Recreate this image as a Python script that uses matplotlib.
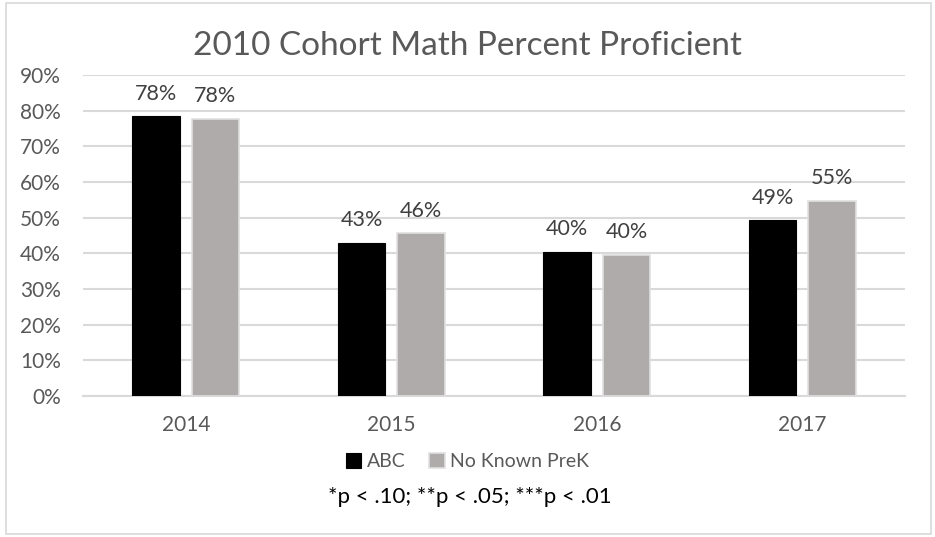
import numpy as np
import matplotlib.pyplot as plt
from matplotlib.patches import Rectangle

years = ["2014", "2015", "2016", "2017"]
abc = [78.4, 42.9, 40.4, 49.3]
no_prek = [77.8, 45.6, 39.6, 54.8]

text_grey = "#595959"
plt.rcParams['font.family'] = ['Lato', 'DejaVu Sans']

fig = plt.figure(figsize=(9.35, 5.37), dpi=100)
ax = fig.add_axes([0.0888, 0.2626, 0.8791, 0.5977])

x = np.arange(len(years))
w = 0.231
off = (w + 0.058) / 2

b1 = ax.bar(x - off, abc, w, color="black", edgecolor="black", linewidth=0.8, zorder=3, label="ABC")
b2 = ax.bar(x + off, no_prek, w, color="#afabab", edgecolor="#e0e0e0", linewidth=1.2, zorder=3, label="No Known PreK")

for bars, vals in [(b1, abc), (b2, no_prek)]:
    for rect, v in zip(bars, vals):
        ax.annotate("%.0f%%" % v, (rect.get_x() + rect.get_width() / 2, v),
                    xytext=(0, 9), textcoords="offset points",
                    ha="center", va="bottom", fontsize=15.5, color="#404040")

ax.set_xlim(-0.5, 3.5)
ax.set_ylim(0, 90)
ax.set_yticks(np.arange(0, 91, 10))
ax.set_yticklabels(["%d%%" % t for t in range(0, 91, 10)])
ax.set_xticks(x)
ax.set_xticklabels(years)
ax.tick_params(length=0, labelsize=15, colors=text_grey)
ax.tick_params(axis="x", pad=14)
ax.tick_params(axis="y", pad=16)
ax.yaxis.grid(True, color="#d9d9d9", linewidth=1.5, zorder=0)
for s in ["top", "right", "left"]:
    ax.spines[s].set_visible(False)
ax.spines["bottom"].set_color("#d9d9d9")
ax.spines["bottom"].set_linewidth(1.5)

fig.text(0.5, 0.915, "2010 Cohort Math Percent Proficient", ha="center", va="center",
         fontsize=24, color=text_grey)

fig.legend(handles=[b1, b2], loc="center", bbox_to_anchor=(0.5, 0.14), ncol=2, frameon=False,
           fontsize=14, labelcolor=text_grey, handlelength=0.8, handleheight=0.8,
           handletextpad=0.3, columnspacing=1.2)

fig.text(0.503, 0.075, "*p < .10; **p < .05; ***p < .01", ha="center", va="center",
         fontsize=16, color="black")

fig.patches.append(Rectangle((0.006, 0.005), 0.99, 0.99, transform=fig.transFigure,
                             fill=False, edgecolor="#d9d9d9", linewidth=1.2))

fig.savefig("out.png", dpi=100)
